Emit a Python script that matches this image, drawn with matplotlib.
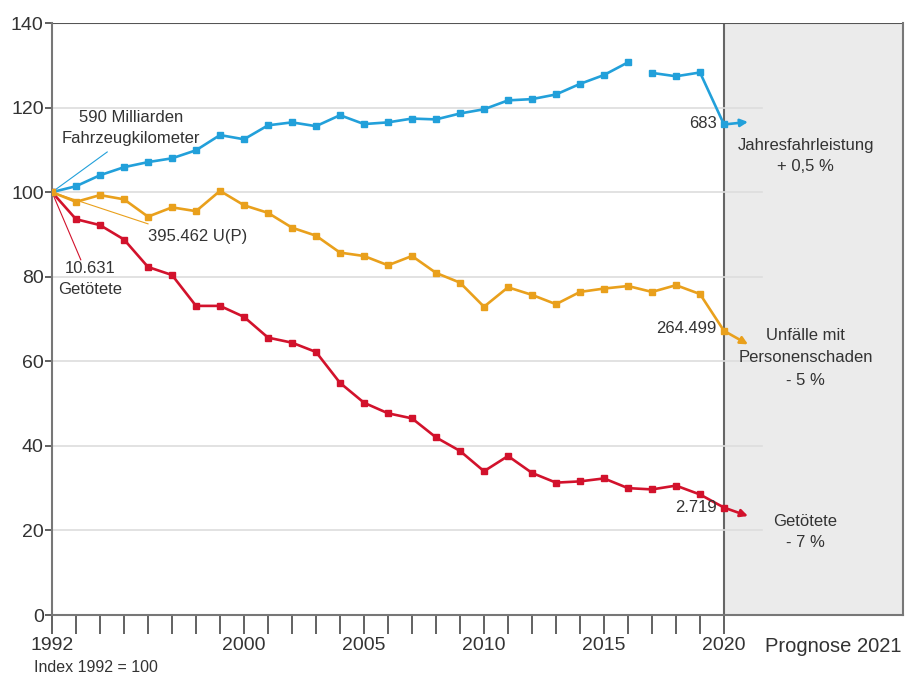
import numpy as np
import matplotlib.pyplot as plt

plt.rcParams['font.family'] = ['Liberation Sans', 'DejaVu Sans']

years = list(range(1992, 2021))
fahrleistung = [100, 101.4, 104, 105.9, 107.1, 108, 109.9, 113.5, 112.5, 115.8,
                116.5, 115.6, 118.2, 116.1, 116.5, 117.4, 117.2, 118.6, 119.6, 121.7,
                122, 123.1, 125.6, 127.7, 130.7, 128.2, 127.4, 128.3, 116]
unfaelle = [100, 97.7, 99.3, 98.3, 94.2, 96.4, 95.5, 100.3, 96.9, 95.1,
            91.6, 89.7, 85.7, 84.9, 82.7, 84.9, 80.9, 78.6, 72.9, 77.5,
            75.7, 73.5, 76.4, 77.2, 77.8, 76.4, 78, 75.9, 67.2]
getoetete = [100, 93.6, 92.2, 88.8, 82.3, 80.4, 73.1, 73.1, 70.5, 65.6,
             64.4, 62.2, 54.9, 50.2, 47.7, 46.5, 42, 38.8, 34, 37.6,
             33.6, 31.3, 31.6, 32.3, 30, 29.7, 30.6, 28.5, 25.4]
# Prognose 2021
prognose = {'fahrleistung': 116.6, 'unfaelle': 64.0, 'getoetete': 23.4}
# Datenluecke zwischen 2016 und 2017 in der Fahrleistung
gap_year = 2016

blue = '#22a0da'
orange = '#e9a01c'
red = '#d2122c'
txt = '#333333'

fig = plt.figure(figsize=(9.06, 6.80), dpi=100)
ax = fig.add_axes([52 / 906, 65 / 680, 851 / 906, 592 / 680])
x_right = 1992 + 851 / 24
ax.set_xlim(1992, x_right)
ax.set_ylim(0, 140)

# Prognose-Bereich
ax.axvspan(2020, x_right, color='#ebebeb', zorder=0)
ax.axvline(2020, color='#666666', lw=1.5, zorder=1)

for yv in range(20, 140, 20):
    ax.plot([1992, 2021.6], [yv, yv], color='#dddddd', lw=1.2, zorder=1)
ax.axhline(140, color='#555555', lw=1.5, zorder=1)

ax.spines['top'].set_visible(False)
for s in ['left', 'bottom', 'right']:
    ax.spines[s].set_color('#777777')
    ax.spines[s].set_linewidth(1.5)

yrs = np.array(years)
fl = np.array(fahrleistung)
cut = years.index(gap_year) + 1
mk = dict(marker='s', markersize=5, lw=1.9, zorder=3)
ax.plot(yrs, getoetete, color=red, **mk)
ax.plot(yrs[:cut], fl[:cut], color=blue, **mk)
ax.plot(yrs[cut:], fl[cut:], color=blue, **mk)
ax.plot(yrs, unfaelle, color=orange, **mk)

# Pfeile fuer 2021
for vals, key, c in [(fahrleistung, 'fahrleistung', blue),
                     (unfaelle, 'unfaelle', orange),
                     (getoetete, 'getoetete', red)]:
    ax.annotate('', xy=(2021, prognose[key]), xytext=(2020, vals[-1]),
                arrowprops=dict(arrowstyle='-|>', color=c, lw=1.9,
                                mutation_scale=11, shrinkA=0, shrinkB=0),
                zorder=3)

# Achsen
ax.set_xticks(range(1992, 2021))
ax.set_xticklabels([str(y) if y in (1992, 2000, 2005, 2010, 2015, 2020) else ''
                    for y in range(1992, 2021)])
ax.tick_params(axis='x', direction='out', length=14, width=1.3, color='#555555',
               labelsize=14, labelcolor=txt, pad=2)
ax.set_yticks(range(0, 141, 20))
ax.tick_params(axis='y', direction='out', length=5, width=1.3, color='#555555',
               labelsize=14, labelcolor=txt, pad=1)

fig.text(765 / 906, 1 - 646 / 680, 'Prognose 2021', fontsize=14.5, color=txt,
         va='center', ha='left')
fig.text(34 / 906, 1 - 668 / 680, 'Index 1992 = 100', fontsize=11.5, color=txt,
         va='center', ha='left')

# Beschriftungen links
ls = 1.5
ax.plot([1992, 1994.3], [100, 109.5], color=blue, lw=0.8, zorder=2)
ax.plot([1992, 1996.0], [100, 92.5], color=orange, lw=0.8, zorder=2)
ax.plot([1992, 1993.2], [100, 84], color=red, lw=0.8, zorder=2)
ax.text(1995.3, 115.1, '590 Milliarden\nFahrzeugkilometer', fontsize=12,
        color=txt, ha='center', va='center', linespacing=ls)
ax.text(1996.0, 89.6, '395.462 U(P)', fontsize=12, color=txt,
        ha='left', va='center')
ax.text(1993.6, 79.4, '10.631\nGetötete', fontsize=12, color=txt,
        ha='center', va='center', linespacing=ls)

# Beschriftungen rechts
ax.text(2019.7, 116.3, '683', fontsize=12, color=txt, ha='right', va='center')
ax.text(2019.7, 67.8, '264.499', fontsize=12, color=txt, ha='right', va='center')
ax.text(2019.7, 25.4, '2.719', fontsize=12, color=txt, ha='right', va='center')
ax.text(2023.4, 108.5, 'Jahresfahrleistung\n+ 0,5 %', fontsize=12, color=txt,
        ha='center', va='center', linespacing=ls)
ax.text(2023.4, 60.8, 'Unfälle mit\nPersonenschaden\n- 5 %', fontsize=12,
        color=txt, ha='center', va='center', linespacing=1.6)
ax.text(2023.4, 19.6, 'Getötete\n- 7 %', fontsize=12, color=txt,
        ha='center', va='center', linespacing=ls)

fig.savefig('out.png', dpi=100)
